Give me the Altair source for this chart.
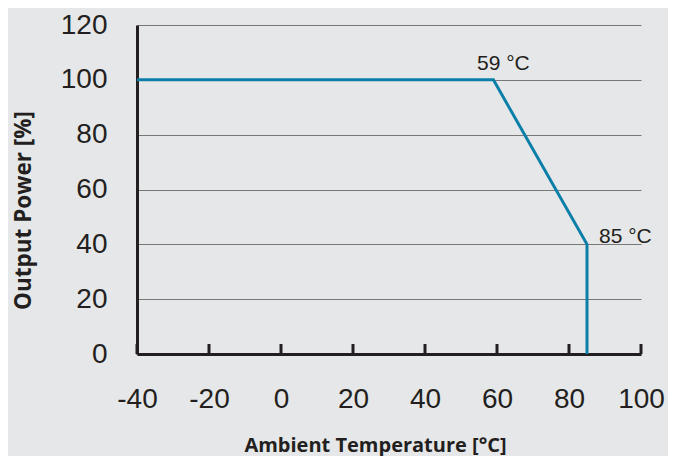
import altair as alt
import pandas as pd

# Derating curve
temps = [-40, 59, 85, 85]
power = [100, 100, 40, 0]

x_ticks = [-40, -20, 0, 20, 40, 60, 80, 100]
y_ticks = [0, 20, 40, 60, 80, 100, 120]

ann_text = ["59 °C", "85 °C"]
ann_x = [59, 85]
ann_y = [100, 40]

W, H = 504, 329
LINE = "#0b7fa8"
DARK = "#231f20"

curve = pd.DataFrame({"t": temps, "p": power, "i": list(range(len(temps)))})
ticks = pd.DataFrame({"t": x_ticks})
ann = pd.DataFrame({"label": ann_text, "t": ann_x, "p": ann_y})

xs = alt.Scale(domain=[-40, 100], nice=False, zero=False)
ys = alt.Scale(domain=[0, 120], nice=False)

base_x = alt.X(
    "t:Q", scale=xs,
    axis=alt.Axis(
        values=x_ticks, title="Ambient Temperature [°C]", grid=False,
        ticks=False, domain=True, domainColor=DARK, domainWidth=3,
        labelFont="Liberation Sans", labelFontSize=28, labelColor=DARK,
        labelPadding=31, labelFlush=False, labelExpr="datum.value + ''",
        titleFont="Open Sans", titleFontWeight="bold", titleFontSize=20,
        titleColor=DARK, titleX=238, titleY=97, titleBaseline="alphabetic",
        titleAlign="center",
    ),
)
base_y = alt.Y(
    "p:Q", scale=ys,
    axis=alt.Axis(
        values=y_ticks, title="Output Power [%]", grid=True,
        gridColor="#787878", gridWidth=1.2, ticks=False,
        domain=True, domainColor=DARK, domainWidth=3,
        labelFont="Liberation Sans", labelFontSize=28, labelColor=DARK,
        labelPadding=30, labelFlush=False,
        titleFont="Open Sans", titleFontWeight="bold", titleFontSize=22.5,
        titleColor=DARK, titleX=-114, titleY=185, titleAngle=-90,
        titleBaseline="middle", titleAlign="center",
    ),
)

line = alt.Chart(curve).mark_line(color=LINE, strokeWidth=3).encode(
    x=base_x, y=base_y, order=alt.Order("i:Q")
)

tick_marks = alt.Chart(ticks).mark_rule(color=DARK, strokeWidth=3).encode(
    x=alt.X("t:Q", scale=xs),
    y=alt.value(H),
    y2=alt.value(H - 10),
)

ann1 = alt.Chart(ann.iloc[[0]]).mark_text(
    font="Liberation Sans", fontSize=21, color=DARK, align="center",
    baseline="alphabetic", dx=10, dy=-10,
).encode(x=alt.X("t:Q", scale=xs), y=alt.Y("p:Q", scale=ys), text="label:N")

ann2 = alt.Chart(ann.iloc[[1]]).mark_text(
    font="Liberation Sans", fontSize=21, color=DARK, align="left",
    baseline="alphabetic", dx=12, dy=-1,
).encode(x=alt.X("t:Q", scale=xs), y=alt.Y("p:Q", scale=ys), text="label:N")

chart = (
    alt.layer(line, tick_marks, ann1, ann2)
    .properties(
        width=W, height=H,
        autosize=alt.AutoSizeParams(type="none"),
        padding={"left": 129, "top": 17, "right": 27, "bottom": 102},
        background="#e6e7e8",
    )
    .configure_view(stroke=None)
)

chart.save("out.html", embed_options={"renderer": "svg", "actions": False})
